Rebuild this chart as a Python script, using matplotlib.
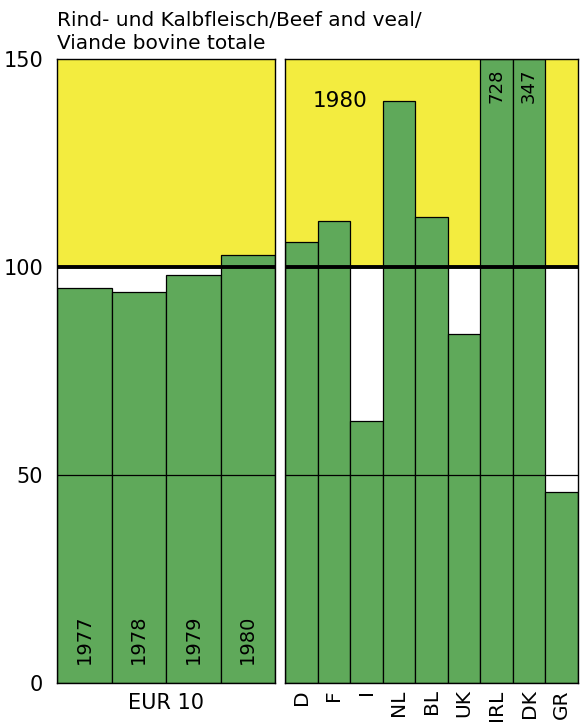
import matplotlib
matplotlib.use("Agg")
import matplotlib.pyplot as plt

# EUR 10 index by year
years = ["1977", "1978", "1979", "1980"]
eur_vals = [95, 94, 98, 103]

# member states, 1980
countries = ["D", "F", "I", "NL", "BL", "UK", "IRL", "DK", "GR"]
country_vals = [106, 111, 63, 140, 112, 84, 728, 347, 46]
clipped = {"IRL": "728", "DK": "347"}

green = "#5fa95a"
yellow = "#f3ec3f"
ymax = 150

fig = plt.figure(figsize=(5.84, 7.26), dpi=100)
ax1 = fig.add_axes([0.0976, 0.0592, 0.3733, 0.8595])
ax2 = fig.add_axes([0.488, 0.0592, 0.5017, 0.8595])

def panel(ax, labels, vals):
    n = len(vals)
    ax.axhspan(100, ymax, color=yellow, zorder=0)
    ax.bar(range(n), [min(v, ymax) for v in vals], width=1.0, color=green,
           edgecolor="black", linewidth=0.9, zorder=2)
    ax.axhline(100, color="black", linewidth=2.8, zorder=3)
    ax.axhline(50, color="black", linewidth=0.9, zorder=3)
    ax.set_xlim(-0.5, n - 0.5)
    ax.set_ylim(0, ymax)
    ax.set_xticks([])
    for s in ax.spines.values():
        s.set_linewidth(1.0)

panel(ax1, years, eur_vals)
panel(ax2, countries, country_vals)

ax1.set_yticks([0, 50, 100, 150])
ax1.tick_params(axis="y", length=0, labelsize=15, pad=10)
ax2.set_yticks([])

for i, y in enumerate(years):
    ax1.text(i, 10.5, y, rotation=90, ha="center", va="center", fontsize=14, zorder=4)
ax1.text(1.5, -2.5, "EUR 10", ha="center", va="top", fontsize=15)

for i, c in enumerate(countries):
    ax2.text(i, -1.5, c, rotation=90, ha="center", va="top", fontsize=14.5)
    if c in clipped:
        ax2.text(i, 143.5, clipped[c], rotation=90, ha="center", va="center",
                 fontsize=13, zorder=4)
ax2.text(1.2, 140, "1980", ha="center", va="center", fontsize=15.5, zorder=4)

fig.text(0.0976, 0.985, "Rind- und Kalbfleisch/Beef and veal/\nViande bovine totale",
         ha="left", va="top", fontsize=14.5, linespacing=1.3)

fig.savefig("out.png", dpi=100)
